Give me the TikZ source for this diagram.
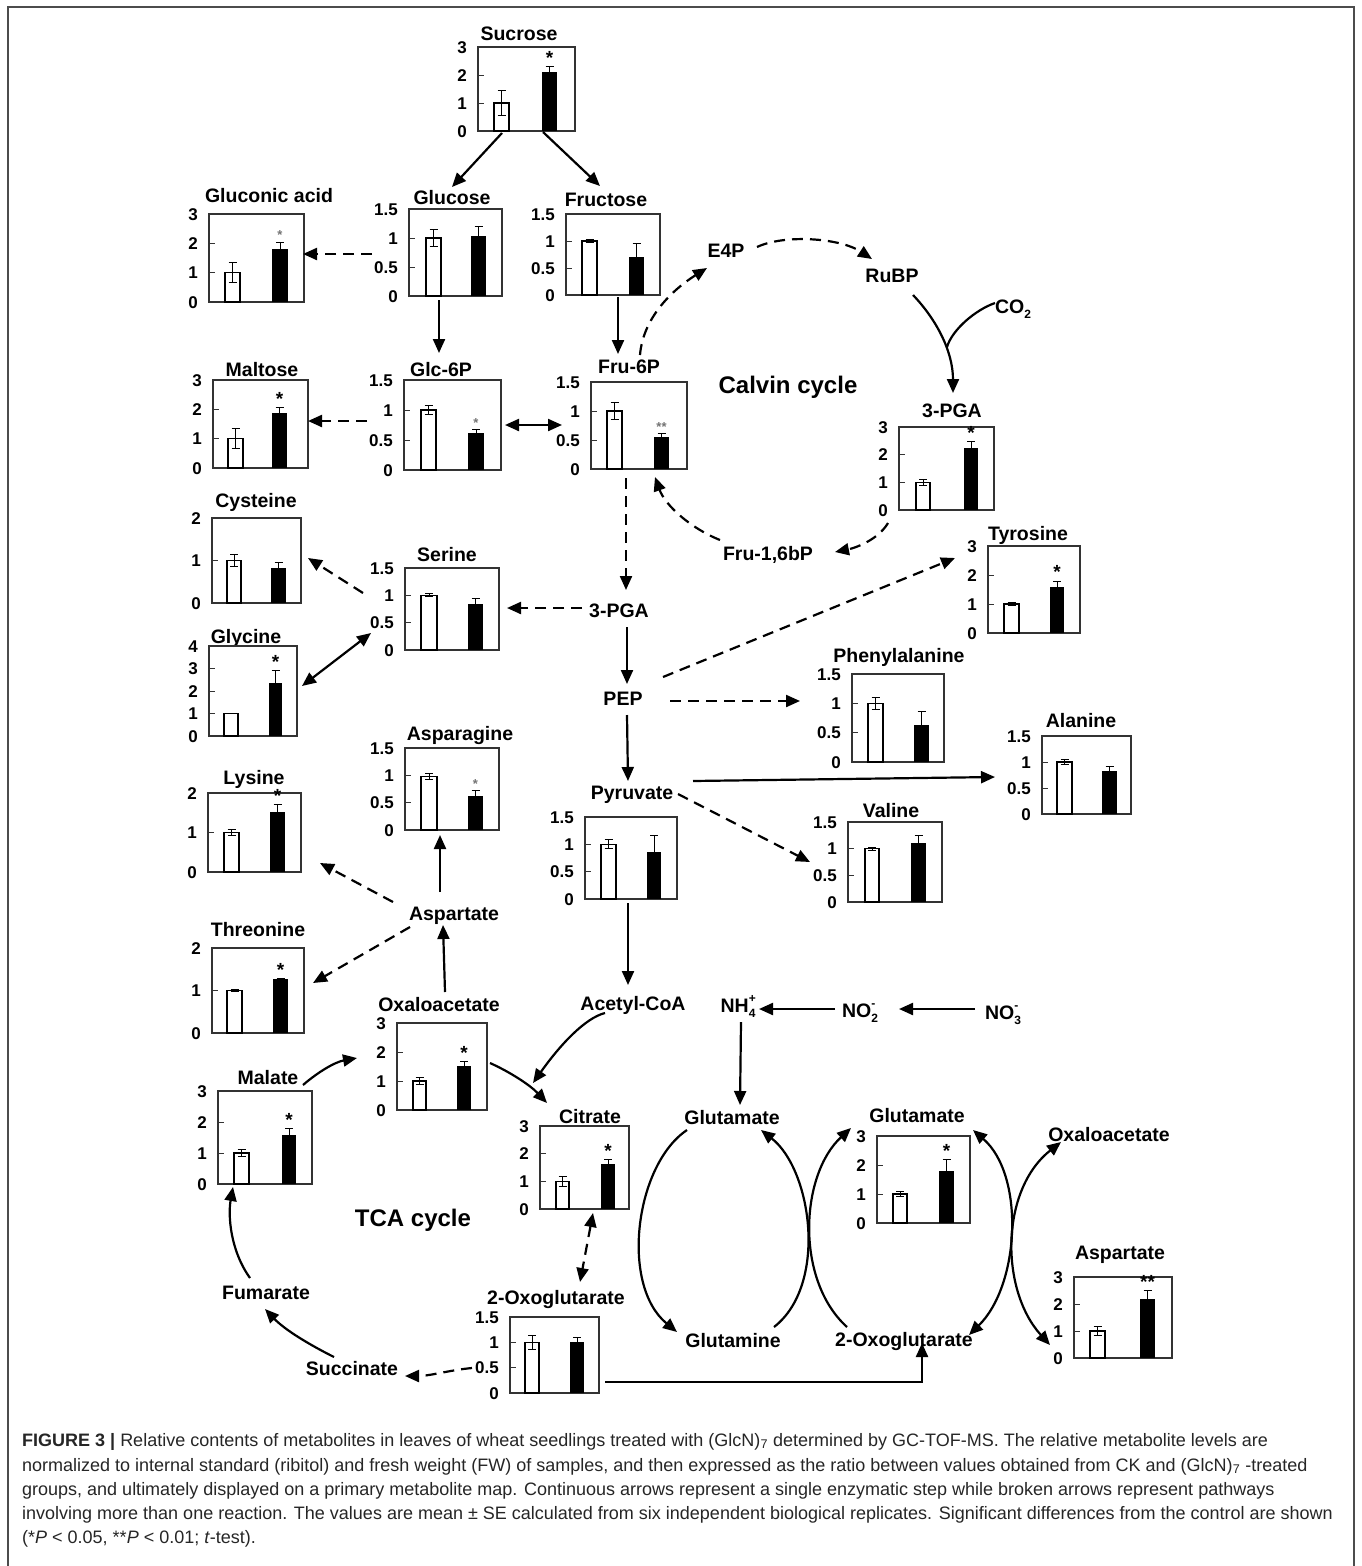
\documentclass[tikz,border=0pt]{standalone}
\usepackage{fontspec}
\setmainfont{Liberation Sans}
\usetikzlibrary{arrows.meta}
\newcommand\bigst[1]{\fontsize{19}{19}\selectfont #1}
\newcommand\smst[1]{\color{black!55}\fontsize{13}{13}\selectfont #1}
\newcommand\subsup[2]{\makebox[0pt][l]{\raisebox{0.5em}{\fontsize{12}{12}\selectfont #2}}\raisebox{-0.3em}{\fontsize{12}{12}\selectfont #1}}
\tikzset{
  lab/.style={font=\bfseries\fontsize{19.5}{21}\selectfont, inner sep=0pt, anchor=base, yshift=-7pt},
  biglab/.style={font=\bfseries\fontsize{24}{26}\selectfont, inner sep=0pt, anchor=base, yshift=-8.6pt},
  ax/.style={font=\bfseries\fontsize{17}{18}\selectfont, inner sep=0pt, anchor=base east, yshift=-6.1pt},
  cbox/.style={draw=black!80, line width=1.3pt},
  ticksty/.style={draw=black!80, line width=1pt},
  barl/.style={draw=black, line width=1.1pt},
  errl/.style={draw=black, line width=1pt},
  starnode/.style={inner sep=0pt, anchor=south, font=\bfseries},
  arr/.style={line width=2.2pt, -{Triangle[length=14pt,width=12pt]}},
  darr/.style={arr, dash pattern=on 11pt off 7pt},
  barr/.style={line width=2.2pt, {Triangle[length=14pt,width=12pt]}-{Triangle[length=14pt,width=12pt]}},
  dbarr/.style={barr, dash pattern=on 11pt off 7pt},
  plainline/.style={line width=2.2pt},
  captext/.style={font=\fontsize{18}{25}\selectfont, inner sep=0pt, anchor=base west, text=black!85},
}
% chart: L T R B ymax ticks
\newcommand\mychart[6]{%
  \draw[cbox] (#1,#2) rectangle (#3,#4);
  \pgfmathsetmacro\cS{(#4-#2)/#5}\xdef\cS{\cS}\xdef\cB{#4}%
  \foreach \v/\l in {#6}{%
    \pgfmathsetmacro\yy{#4-\cS*\v}%
    \node[ax] at (#1-11,\yy) {\l};
    \draw[ticksty] (#1,\yy) -- (#1+6,\yy);
  }}
\newcommand\wbar[4]{%
  \pgfmathsetmacro\yt{\cB-\cS*#3}%
  \pgfmathsetmacro\yu{\cB-\cS*(#3+#4)}%
  \pgfmathsetmacro\yd{\cB-\cS*(#3-#4)}%
  \pgfmathsetmacro\xm{(#1+#2)/2}%
  \draw[barl,fill=white] (#1,\cB) rectangle (#2,\yt);
  \draw[errl] (\xm,\yu) -- (\xm,\yd) (\xm-4,\yu) -- (\xm+4,\yu) (\xm-4,\yd) -- (\xm+4,\yd);}
\newcommand\kbar[5][]{%
  \pgfmathsetmacro\yt{\cB-\cS*#4}%
  \pgfmathsetmacro\yu{\cB-\cS*(#4+#5)}%
  \pgfmathsetmacro\xm{(#2+#3)/2}%
  \draw[errl] (\xm,\yu) -- (\xm,\yt) (\xm-4,\yu) -- (\xm+4,\yu);
  \fill[black] (#2,\cB) rectangle (#3,\yt);
  \ifx\relax#1\relax\else\node[starnode] at (\xm,\yu-2) {#1};\fi}
\begin{document}
\begin{tikzpicture}[x=1pt,y=-1pt]
\useasboundingbox (0,0) rectangle (1362,1566);
\fill[white] (0,0) rectangle (1362,1566);
\draw[line width=1.6pt, black!70] (8,1575) -- (8,7) -- (1354,7) -- (1354,1575);

% ---------------- charts ----------------
\node[lab] (tsuc) at (519,33) {Sucrose};
\mychart{478}{47}{575}{131}{3}{0/0,1/1,2/2,3/3}
\wbar{494}{509}{1}{0.43}
\kbar[\bigst{*}]{542}{557}{2.12}{0.18}
\node[lab] (tglcn) at (269,195) {Gluconic acid};
\mychart{209}{214}{304}{302}{3}{0/0,1/1,2/2,3/3}
\wbar{225}{240}{1}{0.34}
\kbar[\smst{*}]{272}{288}{1.81}{0.23}
\node[lab] (tglc) at (452,197) {Glucose};
\mychart{409}{209}{502}{296}{1.5}{0/0,0.5/0.5,1/1,1.5/1.5}
\wbar{426}{441}{1}{0.14}
\kbar{471}{486}{1.03}{0.16}
\node[lab] (tfru) at (606,199) {Fructose};
\mychart{566}{214}{660}{295}{1.5}{0/0,0.5/0.5,1/1,1.5/1.5}
\wbar{582}{597}{1}{0.03}
\kbar{629}{644}{0.70}{0.26}
\node[lab] (tmal) at (262,369) {Maltose};
\mychart{213}{380}{308}{468}{3}{0/0,1/1,2/2,3/3}
\wbar{228}{243}{1}{0.35}
\kbar[\bigst{*}]{272}{287}{1.87}{0.2}
\node[lab] (tg6p) at (441,369) {Glc-6P};
\mychart{404}{380}{501}{470}{1.5}{0/0,0.5/0.5,1/1,1.5/1.5}
\wbar{421}{436}{1}{0.08}
\kbar[\smst{*}]{468}{484}{0.61}{0.06}
\node[lab] (tf6p) at (629,366) {Fru-6P};
\mychart{591}{382}{687}{469}{1.5}{0/0,0.5/0.5,1/1,1.5/1.5}
\wbar{607}{622}{1}{0.14}
\kbar[\smst{**}]{654}{669}{0.56}{0.05}
\node[lab] (tpga) at (952,410) {3-PGA};
\mychart{899}{427}{994}{510}{3}{0/0,1/1,2/2,3/3}
\wbar{916}{930}{1}{0.12}
\kbar[\bigst{*}]{964}{978}{2.23}{0.24}
\node[lab] (ttyr) at (1028,533) {Tyrosine};
\mychart{988}{546}{1080}{633}{3}{0/0,1/1,2/2,3/3}
\wbar{1004}{1019}{1}{0.04}
\kbar[\bigst{*}]{1050}{1064}{1.59}{0.2}
\node[lab] (tcys) at (256,500) {Cysteine};
\mychart{212}{518}{301}{603}{2}{0/0,1/1,2/2}
\wbar{227}{241}{1}{0.13}
\kbar{271}{286}{0.83}{0.13}
\node[lab] (tser) at (447,554) {Serine};
\mychart{405}{568}{499}{650}{1.5}{0/0,0.5/0.5,1/1,1.5/1.5}
\wbar{421}{437}{1}{0.03}
\kbar{468}{483}{0.84}{0.11}
\node[lab] (tgly) at (246,636) {Glycine};
\mychart{209}{646}{297}{736}{4}{0/0,1/1,2/2,3/3,4/4}
\wbar{224}{238}{1}{0.02}
\kbar[\bigst{*}]{269}{282}{2.37}{0.53}
\node[lab] (tphe) at (899,655) {Phenylalanine};
\mychart{852}{674}{944}{762}{1.5}{0/0,0.5/0.5,1/1,1.5/1.5}
\wbar{868}{883}{1}{0.1}
\kbar{914}{929}{0.63}{0.23}
\node[lab] (tala) at (1081,720) {Alanine};
\mychart{1042}{736}{1131}{814}{1.5}{0/0,0.5/0.5,1/1,1.5/1.5}
\wbar{1057}{1072}{1}{0.05}
\kbar{1102}{1117}{0.83}{0.08}
\node[lab] (tval) at (891,810) {Valine};
\mychart{848}{822}{942}{902}{1.5}{0/0,0.5/0.5,1/1,1.5/1.5}
\wbar{865}{879}{1}{0.03}
\kbar{911}{926}{1.1}{0.14}
\node[lab] (tasn) at (460,733) {Asparagine};
\mychart{405}{748}{499}{830}{1.5}{0/0,0.5/0.5,1/1,1.5/1.5}
\wbar{421}{437}{0.98}{0.05}
\kbar[\smst{*}]{468}{483}{0.625}{0.1}
\node[lab] (tlys) at (254,777) {Lysine};
\mychart{208}{793}{301}{872}{2}{0/0,1/1,2/2}
\wbar{224}{239}{1}{0.08}
\kbar[\bigst{*}]{270}{285}{1.51}{0.19}
\node[lab] (pyr) at (632,792) {Pyruvate};
\mychart{585}{817}{677}{899}{1.5}{0/0,0.5/0.5,1/1,1.5/1.5}
\wbar{601}{616}{1}{0.08}
\kbar{647}{661}{0.865}{0.29}
\node[lab] (tthr) at (258,929) {Threonine};
\mychart{212}{948}{304}{1033}{2}{0/0,1/1,2/2}
\wbar{227}{242}{1}{0.02}
\kbar[\bigst{*}]{273}{288}{1.27}{0.015}
\node[lab] (oaa) at (439,1004) {Oxaloacetate};
\mychart{397}{1023}{487}{1110}{3}{0/0,1/1,2/2,3/3}
\wbar{413}{426}{1}{0.12}
\kbar[\bigst{*}]{457}{471}{1.52}{0.15}
\node[lab] (tmla) at (268,1077) {Malate};
\mychart{218}{1091}{312}{1184}{3}{0/0,1/1,2/2,3/3}
\wbar{234}{249}{1}{0.12}
\kbar[\bigst{*}]{282}{296}{1.58}{0.2}
\node[lab] (tcit) at (590,1116) {Citrate};
\mychart{540}{1126}{629}{1209}{3}{0/0,1/1,2/2,3/3}
\wbar{556}{569}{1}{0.18}
\kbar[\bigst{*}]{601}{615}{1.61}{0.18}
\node[lab] (tog) at (556,1297) {2-Oxoglutarate};
\mychart{510}{1317}{599}{1393}{1.5}{0/0,0.5/0.5,1/1,1.5/1.5}
\wbar{525}{539}{1}{0.14}
\kbar{570}{584}{1}{0.09}
\node[lab] (tglu) at (917,1115) {Glutamate};
\mychart{877}{1136}{970}{1223}{3}{0/0,1/1,2/2,3/3}
\wbar{893}{907}{1}{0.08}
\kbar[\bigst{*}]{939}{954}{1.8}{0.4}
\node[lab] (tasp) at (1120,1252) {Aspartate};
\mychart{1074}{1277}{1172}{1358}{3}{0/0,1/1,2/2,3/3}
\wbar{1090}{1105}{1}{0.15}
\kbar[\bigst{**}]{1140}{1155}{2.17}{0.32}

% ---------------- plain labels ----------------
\node[lab] (e4p) at (726,250) {E4P};
\node[lab] (rubp) at (892,275) {RuBP};
\node[lab] (co2) at (1013,306) {CO\subsup{2}{}};
\node[biglab] (calvin) at (788,385) {Calvin cycle};
\node[lab] (f16bp) at (768,553) {Fru-1,6bP};
\node[lab] (pga) at (619,610) {3-PGA};
\node[lab] (pep) at (623,698) {PEP};
\node[lab] (asp) at (454,913) {Aspartate};
\node[lab] (acoa) at (633,1003) {Acetyl-CoA};
\node[lab] (nh4) at (738,1005) {NH\subsup{4}{+}};
\node[lab] (no2) at (860,1010) {NO\subsup{2}{-}};
\node[lab] (no3) at (1003,1012) {NO\subsup{3}{-}};
\node[lab] (glul) at (732,1117) {Glutamate};
\node[lab] (gln) at (733,1340) {Glutamine};
\node[lab] (ogr) at (904,1339) {2-Oxoglutarate};
\node[lab] (oaar) at (1109,1134) {Oxaloacetate};
\node[biglab] (tca) at (413,1218) {TCA cycle};
\node[lab] (fum) at (266,1292) {Fumarate};
\node[lab] (suc) at (352,1368) {Succinate};

% ---------------- connector end points ----------------
\coordinate (a1s) at (502,133); \coordinate (a1e) at (452,187);
\coordinate (a2s) at (543,132); \coordinate (a2e) at (600,186);
\coordinate (a3s) at (372,254); \coordinate (a3e) at (303,254);
\coordinate (a4s) at (439,300); \coordinate (a4e) at (439,353);
\coordinate (a5s) at (618,297); \coordinate (a5e) at (618,354);
\coordinate (a6s) at (640,355); \coordinate (a6e) at (707,268);
\coordinate (a7s) at (757,247); \coordinate (a7e) at (872,259);
\coordinate (a8s) at (913,295); \coordinate (a8e) at (953,393);
\coordinate (a9s) at (995,303); \coordinate (a9e) at (947,347);
\coordinate (a10s) at (888,523); \coordinate (a10e) at (835,552);
\coordinate (a11s) at (720,540); \coordinate (a11e) at (655,477);
\coordinate (a12s) at (505,425); \coordinate (a12e) at (562,425);
\coordinate (a13s) at (367,421); \coordinate (a13e) at (308,421);
\coordinate (a14s) at (626,478); \coordinate (a14e) at (626,590);
\coordinate (a15s) at (582,608); \coordinate (a15e) at (507,608);
\coordinate (a16s) at (363,593); \coordinate (a16e) at (308,558);
\coordinate (a17s) at (371,633); \coordinate (a17e) at (302,686);
\coordinate (a18s) at (627,627); \coordinate (a18e) at (627,684);
\coordinate (a19s) at (663,677); \coordinate (a19e) at (955,558);
\coordinate (a20s) at (670,701); \coordinate (a20e) at (800,701);
\coordinate (a21s) at (627,715); \coordinate (a21e) at (628,781);
\coordinate (a22s) at (693,781); \coordinate (a22e) at (995,777);
\coordinate (a23s) at (678,794); \coordinate (a23e) at (810,862);
\coordinate (a24s) at (628,903); \coordinate (a24e) at (628,985);
\coordinate (a25s) at (440,892); \coordinate (a25e) at (440,835);
\coordinate (a26s) at (393,902); \coordinate (a26e) at (320,863);
\coordinate (a27s) at (410,927); \coordinate (a27e) at (313,983);
\coordinate (a28s) at (445,992); \coordinate (a28e) at (443,925);
\coordinate (a29s) at (605,1013); \coordinate (a29e) at (533,1083);
\coordinate (a30s) at (490,1063); \coordinate (a30e) at (547,1103);
\coordinate (a31s) at (303,1085); \coordinate (a31e) at (357,1058);
\coordinate (a32s) at (250,1278); \coordinate (a32e) at (233,1187);
\coordinate (a33s) at (334,1357); \coordinate (a33e) at (265,1309);
\coordinate (a34s) at (472,1368); \coordinate (a34e) at (405,1376);
\coordinate (a35s) at (593,1213); \coordinate (a35e) at (580,1282);
\coordinate (a36s) at (605,1382); \coordinate (a36e) at (922,1343);
\coordinate (a37s) at (835,1009); \coordinate (a37e) at (759,1009);
\coordinate (a38s) at (975,1009); \coordinate (a38e) at (899,1009);
\coordinate (a39s) at (741,1022); \coordinate (a39e) at (740,1105);
\coordinate (a40s) at (687,1130); \coordinate (a40e) at (677,1332);
\coordinate (a41s) at (774,1327); \coordinate (a41e) at (761,1130);
\coordinate (a42s) at (847,1327); \coordinate (a42e) at (851,1128);
\coordinate (a43s) at (973,1130); \coordinate (a43e) at (969,1335);
\coordinate (a44s) at (1061,1142); \coordinate (a44e) at (1050,1345);

% ---------------- connectors ----------------
\draw[arr] (a1s) -- (a1e);
\draw[arr] (a2s) -- (a2e);
\draw[darr] (a3s) -- (a3e);
\draw[arr] (a4s) -- (a4e);
\draw[arr] (a5s) -- (a5e);
\draw[darr] (a6s) .. controls (643,318) and (672,290) .. (a6e);
\draw[darr] (a7s) .. controls (785,234) and (840,238) .. (a7e);
\draw[arr] (a8s) .. controls (935,318) and (953,350) .. (a8e);
\draw[plainline] (a9s) .. controls (975,310) and (952,330) .. (a9e);
\draw[darr] (a10s) .. controls (878,540) and (855,548) .. (a10e);
\draw[darr] (a11s) .. controls (690,528) and (665,505) .. (a11e);
\draw[barr] (a12s) -- (a12e);
\draw[darr] (a13s) -- (a13e);
\draw[darr] (a14s) -- (a14e);
\draw[darr] (a15s) -- (a15e);
\draw[darr] (a16s) -- (a16e);
\draw[barr] (a17s) -- (a17e);
\draw[arr] (a18s) -- (a18e);
\draw[darr] (a19s) -- (a19e);
\draw[darr] (a20s) -- (a20e);
\draw[arr] (a21s) -- (a21e);
\draw[arr] (a22s) -- (a22e);
\draw[darr] (a23s) -- (a23e);
\draw[arr] (a24s) -- (a24e);
\draw[arr] (a25s) -- (a25e);
\draw[darr] (a26s) -- (a26e);
\draw[darr] (a27s) -- (a27e);
\draw[arr] (a28s) -- (a28e);
\draw[arr] (a29s) .. controls (585,1018) and (560,1045) .. (a29e);
\draw[arr] (a30s) .. controls (510,1072) and (530,1085) .. (a30e);
\draw[arr] (a31s) .. controls (318,1072) and (335,1062) .. (a31e);
\draw[arr] (a32s) .. controls (230,1250) and (228,1215) .. (a32e);
\draw[arr] (a33s) .. controls (310,1345) and (285,1330) .. (a33e);
\draw[darr] (a34s) .. controls (450,1370) and (430,1376) .. (a34e);
\draw[dbarr] (a35s) -- (a35e);
\draw[arr] (a36s) -| (a36e);
\draw[arr] (a37s) -- (a37e);
\draw[arr] (a38s) -- (a38e);
\draw[arr] (a39s) -- (a39e);
\draw[arr] (a40s) .. controls (635,1165) and (620,1285) .. (a40e);
\draw[arr] (a41s) .. controls (828,1285) and (812,1170) .. (a41e);
\draw[arr] (a42s) .. controls (795,1280) and (800,1175) .. (a42e);
\draw[barr] (a43s) .. controls (1025,1175) and (1020,1285) .. (a43e);
\draw[barr] (a44s) .. controls (1000,1190) and (1000,1290) .. (a44e);

% ---------------- caption ----------------
\node[captext] (c1) at (22,1446) {\textbf{FIGURE 3 |} Relative contents of metabolites in leaves of wheat seedlings treated with (GlcN)\textsubscript{7} determined by GC-TOF-MS. The relative metabolite levels are};
\node[captext] (c2) at (22,1471) {normalized to internal standard (ribitol) and fresh weight (FW) of samples, and then expressed as the ratio between values obtained from CK and (GlcN)\textsubscript{7} -treated};
\node[captext] (c3) at (22,1495) {groups, and ultimately displayed on a primary metabolite map. Continuous arrows represent a single enzymatic step while broken arrows represent pathways};
\node[captext] (c4) at (22,1519) {involving more than one reaction. The values are mean ± SE calculated from six independent biological replicates. Significant differences from the control are shown};
\node[captext] (c5) at (22,1543) {(*\textit{P} < 0.05, **\textit{P} < 0.01; \textit{t}-test).};
\end{tikzpicture}
\end{document}
